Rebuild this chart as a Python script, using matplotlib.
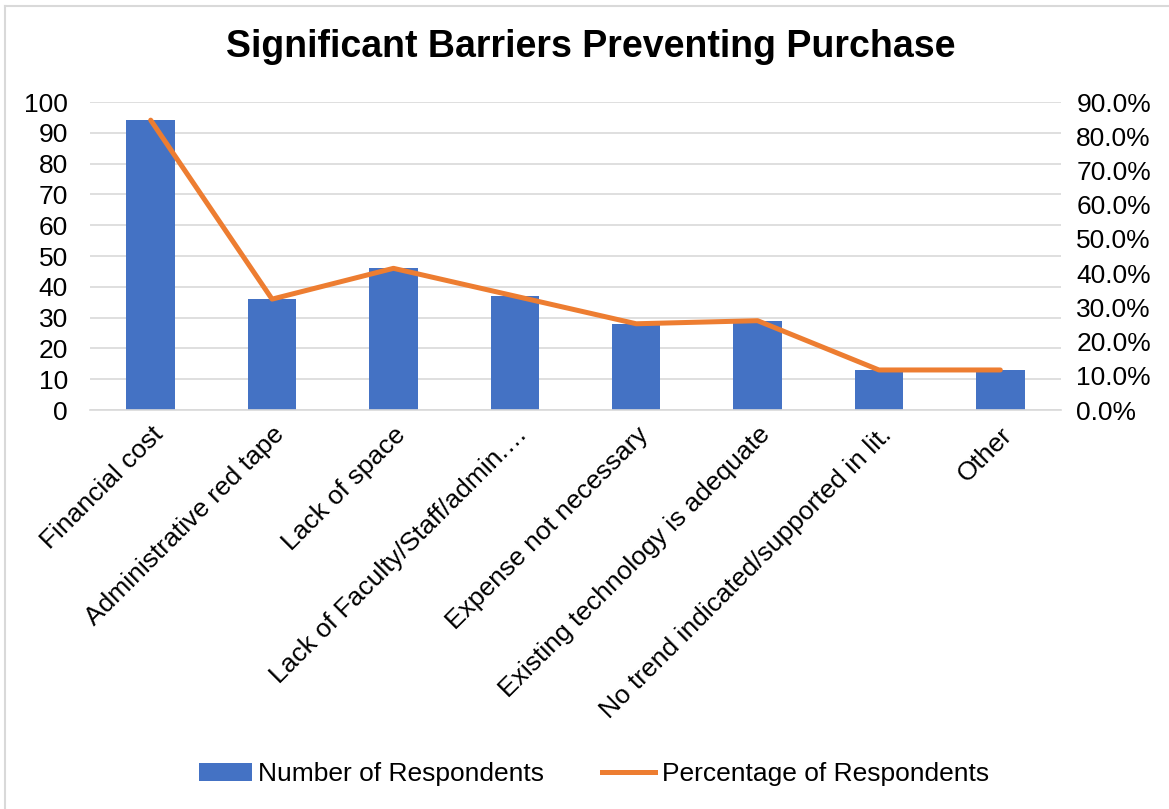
import matplotlib.pyplot as plt
from matplotlib.ticker import FuncFormatter
from matplotlib.lines import Line2D
from matplotlib.patches import Patch

plt.rcParams['font.family'] = ['Liberation Sans', 'DejaVu Sans']

# Data
categories = [
    'Financial cost',
    'Administrative red tape',
    'Lack of space',
    'Lack of Faculty/Staff/admin.\u2026',
    'Expense not necessary',
    'Existing technology is adequate',
    'No trend indicated/supported in lit.',
    'Other',
]
respondents = [94, 36, 46, 37, 28, 29, 13, 13]
percentages = [84.7, 32.4, 41.4, 33.3, 25.2, 26.1, 11.7, 11.7]

BLUE = '#4472C4'
ORANGE = '#ED7D31'
GRID = '#D9D9D9'

fig = plt.figure(figsize=(11.69, 8.09), dpi=100)
ax = fig.add_axes([0.077, 0.4932, 0.8306, 0.3807])
ax2 = ax.twinx()

x = list(range(len(categories)))
ax.bar(x, respondents, width=0.4, color=BLUE, zorder=2)
ax2.plot(x, percentages, color=ORANGE, linewidth=3.6, solid_capstyle='round', zorder=3)

ax.set_xlim(-0.5, len(categories) - 0.5)
ax.set_ylim(0, 100)
ax.set_yticks(range(0, 101, 10))
ax2.set_ylim(0, 90)
ax2.set_yticks(range(0, 91, 10))
ax2.yaxis.set_major_formatter(FuncFormatter(lambda v, p: f'{v:.1f}%'))

ax.yaxis.grid(True, color=GRID, linewidth=1.2, zorder=0)
ax.set_axisbelow(True)
for a in (ax, ax2):
    for s in ('top', 'right', 'left'):
        a.spines[s].set_visible(False)
    a.spines['bottom'].set_color(GRID)
    a.spines['bottom'].set_linewidth(1.2)
ax2.spines['bottom'].set_visible(False)

ax.tick_params(axis='y', length=0, pad=16, labelsize=19)
ax2.tick_params(axis='y', length=0, pad=11, labelsize=19)
ax.tick_params(axis='x', length=0, pad=9)
ax.set_xticks(x)
ax.set_xticklabels(categories, rotation=45, ha='right', va='top',
                   rotation_mode='anchor', fontsize=19)

fig.text(0.505, 0.942, 'Significant Barriers Preventing Purchase',
         ha='center', va='center', fontsize=27, fontweight='bold')

handles = [Patch(facecolor=BLUE, edgecolor='none'),
           Line2D([0], [0], color=ORANGE, linewidth=3.6)]
fig.legend(handles, ['Number of Respondents', 'Percentage of Respondents'],
           loc='center', bbox_to_anchor=(0.508, 0.043), ncol=2, frameon=False,
           fontsize=19, handlelength=2.0, handletextpad=0.25, columnspacing=2.2)

# light chart-area border (top and left edges visible in the crop)
fig.add_artist(Line2D([0.0043, 0.0043], [0, 0.9926], color=GRID, linewidth=1.5,
                      transform=fig.transFigure))
fig.add_artist(Line2D([0.0043, 1], [0.9926, 0.9926], color=GRID, linewidth=1.5,
                      transform=fig.transFigure))

fig.savefig('out.png', dpi=100)
